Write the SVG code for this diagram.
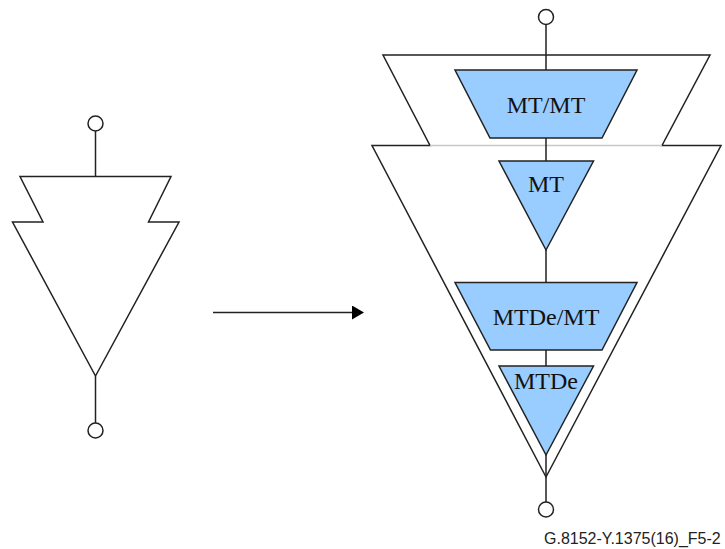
<svg xmlns="http://www.w3.org/2000/svg" width="725" height="549" viewBox="0 0 725 549">
<style>
.o{fill:#fff;stroke:#222;stroke-width:1.5;stroke-linejoin:miter}
.b{fill:#99ccff;stroke:#222;stroke-width:1.5}
.c{fill:#fff;stroke:#222;stroke-width:1.5}
.l{fill:none;stroke:#222;stroke-width:1.5}
.t{font-family:"Liberation Serif",serif;font-size:24px;fill:#111;text-anchor:middle}
</style>
<defs><marker id="a" markerUnits="userSpaceOnUse" markerWidth="12" markerHeight="14" refX="0" refY="7" orient="auto"><path d="M0 0L12 7L0 14Z" fill="#000"/></marker></defs>
<rect width="725" height="549" fill="#fff"/>
<g id="left-outer"><path class="o" d="M20 176.5H171L148.5 222H179L95.5 376L12.5 222H43Z"/></g>
<g id="right-outer">
<path class="o" d="M383 55H710L662 145.5H721L546 477L372 145.5H430Z"/>
<path d="M430 145.5H662" fill="none" stroke="#c8c8c8" stroke-width="1.5"/>
</g>
<g id="connectors">
<path class="l" d="M95.5 131V176.5M95.5 376V423"/>
<path class="l" d="M546 24.500V70M546 138V161M546 250V282.500M546 350V366M546 455V502"/>
<path class="l" d="M213 312.500H352" marker-end="url(#a)"/>
</g>
<g id="left-top-port"><circle class="c" cx="95.500" cy="123.500" r="7.500"/></g>
<g id="left-bottom-port"><circle class="c" cx="95.500" cy="430.500" r="7.500"/></g>
<g id="right-top-port"><circle class="c" cx="546" cy="17" r="7.500"/></g>
<g id="right-bottom-port"><circle class="c" cx="546" cy="509.500" r="7.500"/></g>
<g id="mt-mt"><path class="b" d="M455 70H637L602 138H490Z"/><text class="t" x="546" y="113">MT/MT</text></g>
<g id="mt"><path class="b" d="M499 161H593.500L546 250Z"/><text class="t" x="546" y="191.500">MT</text></g>
<g id="mtde-mt"><path class="b" d="M455 282.500H637L602 350H490.500Z"/><text class="t" x="546" y="325">MTDe/MT</text></g>
<g id="mtde"><path class="b" d="M499 366H593.500L546 455Z"/><text class="t" x="546" y="389">MTDe</text></g>
<text x="544" y="544" font-family="'Liberation Sans',sans-serif" font-size="16" fill="#222">G.8152-Y.1375(16)_F5-2</text>
</svg>
